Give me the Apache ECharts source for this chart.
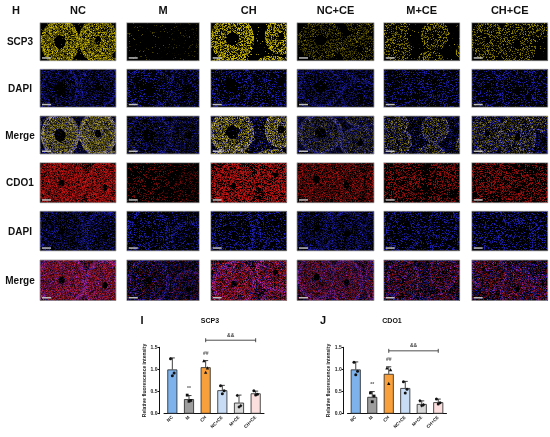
<!DOCTYPE html>
<html><head><meta charset="utf-8">
<script src="https://cdn.jsdelivr.net/npm/echarts@6/dist/echarts.min.js"></script>
<style>html,body{margin:0;padding:0;background:#fff}#c{width:550px;height:437px}</style>
</head><body><div id="c"></div>
<script>
// ---------- data ----------
const categories = ['NC','M','CH','NC+CE','M+CE','CH+CE'];
const scp3Mean = [1.00,0.33,1.05,0.53,0.25,0.46];
const scp3Sd = [0.26,0.08,0.15,0.11,0.17,0.05];
const scp3Points = [[1.24,0.92,0.86],[0.42,0.30,0.28],[1.19,1.03,0.93],[0.63,0.52,0.45],[0.41,0.18,0.15],[0.52,0.44,0.42]];
const scp3Sig = ['','**','##','','',''];
const cdo1Mean = [1.00,0.38,0.90,0.58,0.22,0.26];
const cdo1Sd = [0.17,0.12,0.16,0.15,0.07,0.07];
const cdo1Points = [[1.16,0.96,0.88],[0.47,0.40,0.27],[1.03,0.99,0.68],[0.72,0.55,0.47],[0.29,0.20,0.18],[0.33,0.25,0.22]];
const cdo1Sig = ['','**','##','','',''];
const compareLabel = '&&';
const compareGroups = [2,5];
const rowLabels = ['SCP3','DAPI','Merge','CDO1','DAPI','Merge'];
const scp3Strength = [1,0.08,1,0.45,0.6,0.55];
const cdo1Strength = [1,0.35,0.95,0.75,0.6,0.65];
const dapiStrength = [0.85,0.8,0.8,0.85,0.75,0.8];

// ---------- style ----------
const FONT = 'Liberation Sans, Arial, sans-serif';
const barColors = ['#7db2ea','#9d9d9d','#f8a03c','#c8ddf5','#d7d7d7','#fbdfdf'];
const dotShapes = ['circle','rect','triangle','circle','diamond','circle'];
const dotOffsets = [-1.8,1.8,0];
const colX = [40,126.7,210.7,297,383.7,471.7];
const colW = [76,72.7,76,77,76,76];
const rowY = [22.7,69.3,116,162.7,211.3,260];
const rowH = [38,38,38,40,39.5,40.5];

const fieldA = [
 [[0.26,0.5,0.26,0.62,0.28],[0.76,0.45,0.26,0.62,0.16],[0.3,1.12,0.3,0.15,0],[0.95,1.1,0.2,0.2,0]],
 [[0.3,0.5,0.33,0.6,0.25],[0.85,0.5,0.28,0.7,0.15]],
 [[0.28,0.42,0.3,0.62,0.28],[0.92,0.35,0.22,0.5,0.2],[0.25,1.1,0.3,0.22,0],[0.8,1.05,0.2,0.2,0]],
 [[0.3,0.45,0.3,0.55,0.25],[0.82,0.7,0.28,0.45,0.15],[0.85,0.0,0.25,0.3,0]],
 [[0.15,0.18,0.18,0.3,0],[0.18,0.68,0.2,0.38,0.1],[0.67,0.32,0.19,0.42,0.1],[0.62,0.98,0.19,0.26,0],[1.0,0.75,0.06,0.2,0]],
 [[0.2,0.45,0.22,0.58,0.15],[0.6,0.55,0.25,0.72,0.15],[0.95,0.12,0.18,0.3,0]]
];
const fieldB = [
 [[0.28,0.5,0.34,0.72,0.12],[0.85,0.62,0.28,0.7,0.12]],
 [[0.3,0.5,0.3,0.62,0.15],[0.85,0.72,0.25,0.5,0.15]],
 [[0.3,0.58,0.3,0.6,0.12],[0.85,0.3,0.28,0.5,0.12],[0.9,1.0,0.25,0.3,0]],
 [[0.25,0.42,0.26,0.62,0.15],[0.64,0.55,0.22,0.62,0.15],[0.98,0.5,0.1,0.55,0]],
 [[0.25,0.5,0.23,0.58,0.08],[0.78,0.3,0.2,0.45,0.08],[0.75,1.02,0.2,0.22,0]],
 [[0.22,0.3,0.25,0.5,0.08],[0.6,0.7,0.24,0.55,0.12],[0.95,0.72,0.15,0.4,0]]
];

function mulberry32(a){return function(){a|=0;a=a+0x6D2B79F5|0;let t=Math.imul(a^a>>>15,1|a);t=t+Math.imul(t^t>>>7,61|t)^t;return((t^t>>>14)>>>0)/4294967296;};}
function makeTile(w,h,ells,channels,seed){
  const S=2,W=Math.round(w*S),H=Math.round(h*S);
  const cv=document.createElement('canvas');cv.width=W;cv.height=H;
  const ctx=cv.getContext('2d');const img=ctx.createImageData(W,H);const rnd=mulberry32(seed);
  for(let py=0;py<H;py++){for(let px=0;px<W;px++){
    const u=px/W,v=py/H;let best=9,lum=0;
    for(const e of ells){const d=Math.sqrt(((u-e[0])/e[2])**2+((v-e[1])/e[3])**2);if(d<best){best=d;lum=e[4];}}
    let region;
    if(best<lum) region=0; else if(best<0.8) region=1; else if(best<0.97) region=2; else region=3;
    let r=0,g=0,b=0;
    for(const ch of channels){
      const dens=ch.dens[region]*ch.k;
      if(rnd()<dens){const br=(0.3+0.7*rnd())*(0.4+0.6*ch.k);r+=ch.col[0]*br;g+=ch.col[1]*br;b+=ch.col[2]*br;}
    }
    const o=(py*W+px)*4;img.data[o]=Math.min(255,r);img.data[o+1]=Math.min(255,g);img.data[o+2]=Math.min(255,b);img.data[o+3]=255;
  }}
  ctx.putImageData(img,0,0);return cv;
}
const CH_Y={col:[235,215,0],dens:[0.02,0.58,0.7,0.04]};
const CH_B={col:[45,45,255],dens:[0.03,0.3,0.6,0.3]};
const CH_R={col:[235,25,25],dens:[0.04,0.7,0.75,0.4]};
function ch(base,k){return {col:base.col,dens:base.dens,k:k};}

const graphics=[];
graphics.push({type:'text',style:{text:'H',x:16,y:11,textAlign:'center',textVerticalAlign:'middle',font:'bold 11px '+FONT,fill:'#111'}});
categories.forEach((c,i)=>{
  graphics.push({type:'text',style:{text:c,x:colX[i]+colW[i]/2,y:11,textAlign:'center',textVerticalAlign:'middle',font:'bold 11px '+FONT,fill:'#111'}});
});
rowLabels.forEach((t,r)=>{
  graphics.push({type:'text',style:{text:t,x:20,y:rowY[r]+rowH[r]/2+1,textAlign:'center',textVerticalAlign:'middle',font:'bold 10px '+FONT,fill:'#111'}});
});
for(let r=0;r<6;r++){for(let c=0;c<6;c++){
  const ells=r<3?fieldA[c]:fieldB[c];
  let chans;
  if(r===0) chans=[ch(CH_Y,scp3Strength[c])];
  else if(r===1||r===4) chans=[ch(CH_B,dapiStrength[c])];
  else if(r===2) chans=[ch(CH_Y,scp3Strength[c]*0.85),ch(CH_B,dapiStrength[c])];
  else if(r===3) chans=[ch(CH_R,cdo1Strength[c])];
  else chans=[ch(CH_R,cdo1Strength[c]*0.9),ch(CH_B,dapiStrength[c])];
  const seed=(r<3?100:200)+c*7+(r%3)*31;
  const cv=makeTile(colW[c],rowH[r],ells,chans,seed);
  graphics.push({type:'image',style:{image:cv,x:colX[c],y:rowY[r],width:colW[c],height:rowH[r]}});
  graphics.push({type:'rect',shape:{x:colX[c],y:rowY[r],width:colW[c],height:rowH[r]},style:{fill:null,stroke:'#9a9a9a',lineWidth:0.8}});
  graphics.push({type:'rect',shape:{x:colX[c]+2,y:rowY[r]+rowH[r]-3.5,width:9,height:1.5},style:{fill:'#bdbdbd'}});
}}
graphics.push({type:'text',style:{text:'I',x:142,y:321,textAlign:'center',textVerticalAlign:'middle',font:'bold 11px '+FONT,fill:'#111'}});
graphics.push({type:'text',style:{text:'SCP3',x:210,y:321,textAlign:'center',textVerticalAlign:'middle',font:'bold 7px '+FONT,fill:'#111'}});
graphics.push({type:'text',style:{text:'J',x:323,y:321,textAlign:'center',textVerticalAlign:'middle',font:'bold 11px '+FONT,fill:'#111'}});
graphics.push({type:'text',style:{text:'CDO1',x:392,y:321,textAlign:'center',textVerticalAlign:'middle',font:'bold 7px '+FONT,fill:'#111'}});

function xAxisCfg(gi){return {type:'category',gridIndex:gi,data:categories,
  axisLine:{lineStyle:{color:'#111',width:1}},axisTick:{alignWithLabel:true,length:2,lineStyle:{color:'#111'}},
  axisLabel:{rotate:45,fontSize:4.5,fontWeight:'bold',color:'#222',margin:3,interval:0,fontFamily:FONT}};}
function yAxisCfg(gi,off){return {type:'value',gridIndex:gi,min:0,max:1.5,interval:0.5,offset:off,
  name:'Relative fluorescence intensity',nameLocation:'middle',nameRotate:90,nameGap:12,
  nameTextStyle:{fontSize:5,fontWeight:'bold',color:'#222',fontFamily:FONT},
  axisLine:{show:true,lineStyle:{color:'#111',width:1}},axisTick:{show:true,length:2,lineStyle:{color:'#111'}},
  splitLine:{show:false},axisLabel:{fontSize:5,fontWeight:'bold',color:'#222',margin:2,fontFamily:FONT,formatter:v=>v.toFixed(1)}};}

function barSeries(gi,means){return {type:'bar',xAxisIndex:gi,yAxisIndex:gi,barWidth:10,
  data:means.map((m,i)=>({value:m,itemStyle:{color:barColors[i],borderColor:'#222',borderWidth:0.8}})),z:2};}
function errSeries(gi,means,sds,sig){return {type:'custom',xAxisIndex:gi,yAxisIndex:gi,z:5,clip:false,
  data:means.map((m,i)=>[i,m,sds[i]]),
  renderItem(params,api){
    const i=api.value(0),m=api.value(1),s=api.value(2);
    const p0=api.coord([i,m]),p1=api.coord([i,m+s]);
    const kids=[{type:'line',shape:{x1:p0[0],y1:p0[1],x2:p1[0],y2:p1[1]},style:{stroke:'#111',lineWidth:0.8}},
      {type:'line',shape:{x1:p1[0]-2.5,y1:p1[1],x2:p1[0]+2.5,y2:p1[1]},style:{stroke:'#111',lineWidth:0.8}}];
    if(sig[i]) kids.push({type:'text',style:{text:sig[i],x:p1[0],y:p1[1]-7,textAlign:'center',textVerticalAlign:'middle',font:'bold 5px '+FONT,fill:'#555'}});
    return {type:'group',children:kids};
  }};}
function dotSeries(gi,points){
  const data=[];points.forEach((arr,i)=>arr.forEach((v,k)=>data.push([i,v,k])));
  return {type:'custom',xAxisIndex:gi,yAxisIndex:gi,z:6,clip:false,data,
  renderItem(params,api){
    const i=api.value(0),v=api.value(1),k=api.value(2);
    const p=api.coord([i,v]);const x=p[0]+dotOffsets[k],y=p[1];const sh=dotShapes[i];const st={fill:'#111'};
    if(sh==='rect') return {type:'rect',shape:{x:x-1.4,y:y-1.4,width:2.8,height:2.8},style:st};
    if(sh==='triangle') return {type:'polygon',shape:{points:[[x,y-1.8],[x-1.7,y+1.3],[x+1.7,y+1.3]]},style:st};
    if(sh==='diamond') return {type:'polygon',shape:{points:[[x,y-1.8],[x+1.6,y],[x,y+1.8],[x-1.6,y]]},style:st};
    return {type:'circle',shape:{cx:x,cy:y,r:1.5},style:st};
  }};}
function bracketSeries(gi,level){return {type:'custom',xAxisIndex:gi,yAxisIndex:gi,z:6,clip:false,
  data:[[compareGroups[0],compareGroups[1]]],
  renderItem(params,api){
    const a=api.coord([api.value(0),level]),b=api.coord([api.value(1),level]);
    return {type:'group',children:[
      {type:'line',shape:{x1:a[0],y1:a[1],x2:b[0],y2:b[1]},style:{stroke:'#222',lineWidth:0.8}},
      {type:'line',shape:{x1:a[0],y1:a[1]-2,x2:a[0],y2:a[1]+2},style:{stroke:'#222',lineWidth:0.8}},
      {type:'line',shape:{x1:b[0],y1:b[1]-2,x2:b[0],y2:b[1]+2},style:{stroke:'#222',lineWidth:0.8}},
      {type:'text',style:{text:compareLabel,x:(a[0]+b[0])/2,y:a[1]-5,textAlign:'center',textVerticalAlign:'middle',font:'bold 5px '+FONT,fill:'#444'}}
    ]};
  }};}

const chart=echarts.init(document.getElementById('c'),null,{renderer:'canvas'});
chart.setOption({
  animation:false,backgroundColor:'#fff',
  grid:[{left:164,top:347.3,width:100,height:66.4},{left:347.5,top:347.3,width:99,height:66.4}],
  xAxis:[xAxisCfg(0),xAxisCfg(1)],
  yAxis:[yAxisCfg(0,4.5),yAxisCfg(1,3.8)],
  graphic:graphics,
  series:[
    barSeries(0,scp3Mean),errSeries(0,scp3Mean,scp3Sd,scp3Sig),dotSeries(0,scp3Points),bracketSeries(0,1.66),
    barSeries(1,cdo1Mean),errSeries(1,cdo1Mean,cdo1Sd,cdo1Sig),dotSeries(1,cdo1Points),bracketSeries(1,1.42)
  ]
});
</script></body></html>
